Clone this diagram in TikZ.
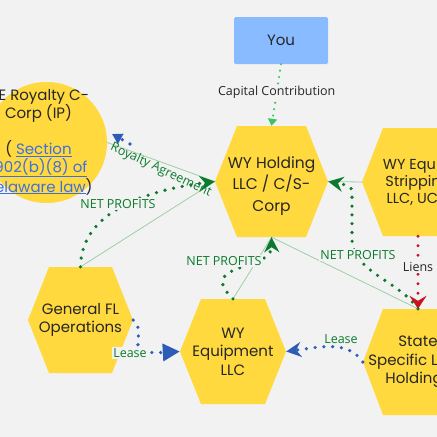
\documentclass[tikz,border=0pt]{standalone}
\usepackage{fontspec}
\setmainfont{Poppins}
\newfontfamily\labfont{Open Sans}
\usetikzlibrary{arrows.meta}
\definecolor{bgc}{HTML}{F2F2F2}
\definecolor{hexy}{HTML}{FFD93D}
\definecolor{youblue}{HTML}{88BBFF}
\definecolor{dgreen}{HTML}{0B7A2E}
\definecolor{lgreen}{HTML}{3CC463}
\definecolor{lblue}{HTML}{2D5BB8}
\definecolor{lred}{HTML}{C8141E}
\definecolor{thinc}{HTML}{9FCFA6}
\definecolor{ink}{HTML}{262626}
\definecolor{linkc}{HTML}{3D6FE0}
\newcommand\hexfillat[5]{\fill[hexy] ({#1-#3/2},#2) -- ({#1-#3/2+#5},{#2-#4/2}) -- ({#1+#3/2-#5},{#2-#4/2}) -- ({#1+#3/2},#2) -- ({#1+#3/2-#5},{#2+#4/2}) -- ({#1-#3/2+#5},{#2+#4/2}) -- cycle;}
\newcommand\lnk[1]{\textcolor{linkc}{\underline{#1}}}
\begin{document}
\begin{tikzpicture}[x=1pt,y=-1pt,
  hexnode/.style 2 args={minimum width=#1pt,minimum height=#2pt,inner sep=0pt,align=center,text=ink},
  ntext/.style={align=center,text=ink,inner sep=0pt},
  lab/.style={font=\labfont\fontsize{12.5}{14}\selectfont,fill=bgc,inner sep=1pt},
  glab/.style={lab,text=dgreen},
  klab/.style={lab,text=ink},
  thinline/.style={draw=thinc,line width=0.8pt},
  gdots/.style={draw=dgreen,line width=3.6pt,line cap=round,dash pattern=on 0pt off 8.8pt},
  bdots/.style={draw=lblue,line width=3.6pt,line cap=round,dash pattern=on 0pt off 8.8pt},
  rdots/.style={draw=lred,line width=3.4pt,line cap=round,dash pattern=on 0pt off 9.5pt},
  cdots/.style={draw=lgreen,line width=2.4pt,line cap=round,dash pattern=on 0pt off 6.5pt},
  gtip/.style={-{Stealth[length=15pt,width=15pt,inset=5pt,fill=dgreen,color=dgreen]}},
]
\useasboundingbox (0,0) rectangle (437,437);
\clip (0,0) rectangle (437,437);
\fill[bgc] (0,0) rectangle (437,437);

% shapes
\hexfillat{271.5}{181.5}{113}{111}{22}
\hexfillat{418}{182}{112}{108}{21}
\hexfillat{80.5}{320}{105}{106}{21}
\hexfillat{233}{351.5}{106}{105}{21}
\hexfillat{418}{362}{110}{106}{20}

\node[fill=youblue,rounded corners=1.5pt,minimum width=94pt,minimum height=47pt,inner sep=0pt,
      font=\fontsize{15}{18}\selectfont,text=ink] (you) at (281,40.5) {You};

\node[circle,fill=hexy,minimum size=121pt,inner sep=0pt] (roy) at (46.5,142.5) {};
\node[ntext,font=\fontsize{15}{18}\selectfont] (roytxt) at (38.5,142) {DE Royalty C-\\Corp (IP)\\[18pt]( \lnk{Section}\\\lnk{1902(b)(8) of}\\\lnk{Delaware law})};

\node[hexnode={113}{111}] (hold) at (271.5,181.5) {};
\node[ntext,font=\fontsize{15.5}{21.5}\selectfont] (holdtxt) at (271.5,186) {WY Holding\\LLC / C/S-\\Corp};
\node[hexnode={112}{108},font=\fontsize{14.5}{17}\selectfont] (stp) at (418,182) {WY Equity\\Stripping\\LLC, UCC};
\node[hexnode={105}{106},font=\fontsize{15}{18.5}\selectfont] (gen) at (80.5,320) {General FL\\Operations};
\node[hexnode={106}{105},font=\fontsize{15}{18.5}\selectfont] (equ) at (233,351.5) {WY\\Equipment\\LLC};
\node[hexnode={110}{106},font=\fontsize{15}{18.5}\selectfont] (sta) at (418,362) {State\\Specific Land\\Holdings};

% thin straight lines
\draw[thinline] (roy.east) -- (hold.west);
\draw[thinline] (gen.north) -- (hold.west);
\draw[thinline] (equ.north) -- (hold.south);
\draw[thinline] (hold.south) -- (sta.north);
\draw[thinline] (stp.west) -- (hold.east);

% capital contribution
\draw[cdots,-{Triangle[length=7pt,width=9pt,fill=lgreen,color=lgreen]}] (you.south) -- (hold.north)
  node[klab,pos=0.45] (caplab) {Capital Contribution};

% royalty agreement
\coordinate (rb) at (130,144);
\coordinate (rtip) at (112,134);
\draw[bdots,-{Triangle[length=10pt,width=11pt,fill=lblue,color=lblue]}] (rb) -- (rtip);
\node[glab,fill=none,rotate=-25] (roylab) at (161,170) {Royalty Agreement};

% net profits from General FL
\draw[gdots,gtip] (gen.north) .. controls (81,222) and (125,193) .. (hold.west);
\node[glab] (np1) at (118,204) {NET PROFITS};

% net profits from WY Equipment
\draw[gdots,gtip] (equ.north) .. controls (195,262) and (272,272) .. (hold.south);
\node[glab] (np2) at (224,261) {NET PROFITS};

% net profits from State
\draw[gdots,gtip] (sta.north) .. controls (398,280) and (352,272) .. (352,238) -- (352,198) .. controls (352,186) .. (hold.east);
\node[glab] (np3) at (358,255) {NET PROFITS};

% liens
\draw[rdots,-{Stealth[length=13pt,width=17pt,inset=5pt,fill=lred,color=lred]}] (stp.south) -- (sta.north)
  node[klab,pos=0.43] (lienlab) {Liens};

% leases
\draw[bdots,-{Triangle[length=17pt,width=17pt,fill=lblue,color=lblue]}] (gen.east) .. controls (150,335) and (118,355) .. (equ.west);
\node[glab] (lease1) at (130,353) {Lease};
\draw[bdots,-{Stealth[length=15pt,width=15pt,inset=5pt,fill=lblue,color=lblue]}] (sta.west) .. controls (348,340) and (320,347) .. (equ.east);
\node[glab] (lease2) at (341,339) {Lease};
\end{tikzpicture}
\end{document}
